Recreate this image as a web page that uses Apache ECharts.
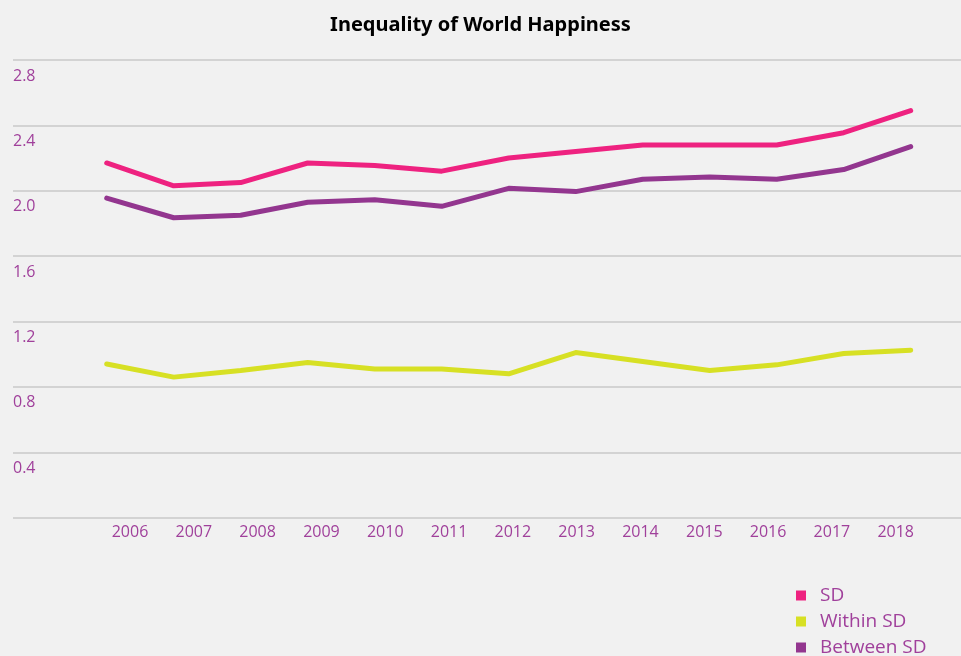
<!DOCTYPE html>
<html>
<head>
<meta charset="utf-8">
<script src="https://cdn.jsdelivr.net/npm/echarts@6/dist/echarts.min.js"></script>
<style>
  html, body { margin: 0; padding: 0; background: #f1f1f1; }
  #chart { width: 961px; height: 656px; }
</style>
</head>
<body>
<div id="chart"></div>
<script>
// data
const years = ["2006", "2007", "2008", "2009", "2010", "2011", "2012", "2013", "2014", "2015", "2016", "2017", "2018"];
const sd = [2.17, 2.03, 2.05, 2.17, 2.155, 2.12, 2.20, 2.24, 2.28, 2.28, 2.28, 2.355, 2.49];
const withinSd = [0.94, 0.86, 0.90, 0.95, 0.91, 0.91, 0.88, 1.01, 0.955, 0.90, 0.935, 1.005, 1.025];
const betweenSd = [1.955, 1.835, 1.85, 1.93, 1.945, 1.905, 2.015, 1.995, 2.07, 2.085, 2.07, 2.13, 2.27];
const yTicks = { min: 0, max: 2.8, interval: 0.4 };

const purple = "#a0409b";
const chart = echarts.init(document.getElementById("chart"));

const lineSeries = (name, data, color) => ({
  name: name,
  type: "line",
  xAxisIndex: 0,
  yAxisIndex: 0,
  data: data,
  showSymbol: false,
  symbol: "none",
  lineStyle: { width: 5, color: color, cap: "round", join: "round" },
  itemStyle: { color: color },
});

const option = {
  backgroundColor: "#f1f1f1",
  animation: false,
  title: {
    text: "Inequality of World Happiness",
    left: "center",
    top: 10,
    textStyle: { fontFamily: "Noto Sans", fontSize: 20, fontWeight: "bold", color: "#000" },
  },
  legend: {
    orient: "vertical",
    left: 796,
    top: 586,
    height: 120,
    padding: 0,
    icon: "rect",
    itemWidth: 10,
    itemHeight: 10,
    itemGap: 7,
    textStyle: { fontFamily: "Open Sans", fontSize: 19, color: purple, padding: [0, 0, 0, 9] },
    data: ["SD", "Within SD", "Between SD"],
  },
  grid: [
    // lines
    { left: 106.7, right: 50.3, top: 60, bottom: 138.3 },
    // year labels
    { left: 130, right: 65.3, top: 60, bottom: 138.3 },
    // gridlines + y labels
    { left: 13, right: 0, top: 60, bottom: 138.3 },
  ],
  xAxis: [
    { gridIndex: 0, type: "category", data: years, boundaryGap: false, show: false },
    {
      gridIndex: 1,
      type: "category",
      data: years,
      boundaryGap: false,
      axisLine: { show: false },
      axisTick: { show: false },
      axisLabel: { color: purple, fontFamily: "Open Sans", fontSize: 16, margin: 7 },
    },
    { gridIndex: 2, type: "value", show: false },
  ],
  yAxis: [
    { gridIndex: 0, type: "value", min: yTicks.min, max: yTicks.max, interval: yTicks.interval, show: false },
    { gridIndex: 1, type: "value", min: yTicks.min, max: yTicks.max, interval: yTicks.interval, show: false },
    {
      gridIndex: 2,
      type: "value",
      min: yTicks.min,
      max: yTicks.max,
      interval: yTicks.interval,
      axisLine: { show: false },
      axisTick: { show: false },
      splitLine: { lineStyle: { color: "#c8c8c8", width: 1.5 } },
      axisLabel: {
        inside: true,
        margin: 0,
        align: "left",
        verticalAlign: "top",
        padding: [8, 0, 0, 0],
        color: purple,
        fontFamily: "Open Sans",
        fontSize: 16,
        formatter: (v) => (v === 0 ? "" : v.toFixed(1)),
      },
    },
  ],
  series: [
    lineSeries("SD", sd, "#ee2280"),
    lineSeries("Within SD", withinSd, "#d7e024"),
    lineSeries("Between SD", betweenSd, "#93368f"),
  ],
};

chart.setOption(option);
</script>
</body>
</html>
